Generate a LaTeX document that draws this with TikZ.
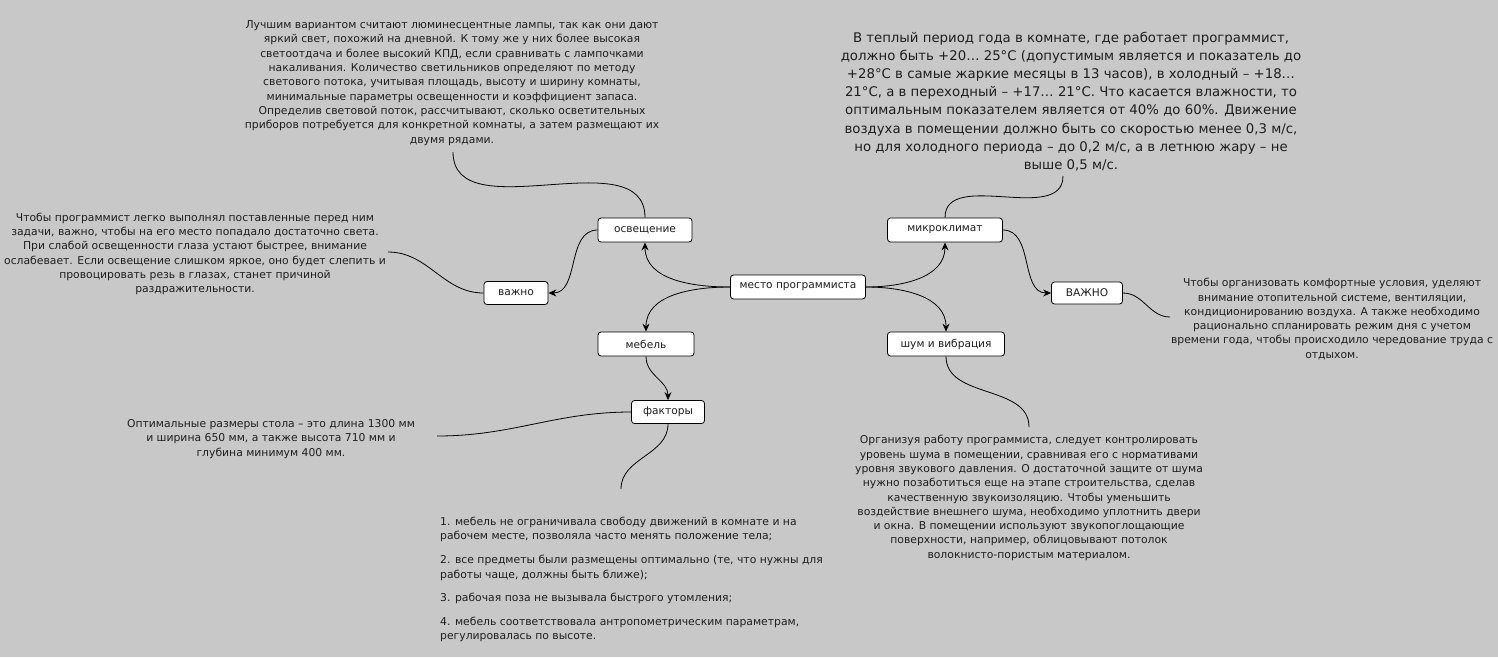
\documentclass[tikz,border=0pt]{standalone}
\usepackage{fontspec}
\setmainfont{DejaVu Sans}
\usetikzlibrary{arrows.meta,positioning}
\definecolor{bggray}{RGB}{200,200,200}
\definecolor{inkgray}{RGB}{30,30,30}

\tikzset{
	topic/.style={draw, fill=white, rounded corners=3pt, line width=0.8pt, inner sep=1pt,
		minimum height=24pt, text=inkgray, font=\fontsize{10.6}{12}\selectfont},
	note/.style={align=center, inner sep=0pt, text=inkgray, font=\fontsize{10.8}{14.3}\selectfont},
	link/.style={line width=0.8pt},
	arrowlink/.style={link, -{Stealth[length=8pt,width=7pt]}},
}

\begin{document}
\begin{tikzpicture}[x=1pt,y=1pt]
	% background
	\fill[bggray] (0,0) rectangle (1498,-657);
	\useasboundingbox (0,0) rectangle (1498,-657);
	
	% topics
	\node[topic, minimum width=135pt] (mesto) at (798,-287) {место программиста};
	\node[topic, minimum width=94pt] (light) at (645,-230) {освещение};
	\node[topic, minimum width=115pt] (climate) at (945,-230) {микроклимат};
	\node[topic, minimum width=64pt, minimum height=23pt] (important) at (516,-293) {важно};
	\node[topic, minimum width=71pt, minimum height=22pt] (important2) at (1087,-293) {ВАЖНО};
	\node[topic, minimum width=96pt] (furniture) at (646,-344) {мебель};
	\node[topic, minimum width=117pt] (noise) at (946,-344) {шум и вибрация};
	\node[topic, minimum width=73pt, minimum height=23pt] (factors) at (668,-412) {факторы};
	
	% notes
	\node[note] (txtlight) at (452,-83) {Лучшим вариантом считают люминесцентные лампы, так как они дают\\
		яркий свет, похожий на дневной. К тому же у них более высокая\\
		светоотдача и более высокий КПД, если сравнивать с лампочками\\
		накаливания. Количество светильников определяют по методу\\
		светового потока, учитывая площадь, высоту и ширину комнаты,\\
		минимальные параметры освещенности и коэффициент запаса.\\
		Определив световой поток, рассчитывают, сколько осветительных\\
		приборов потребуется для конкретной комнаты, а затем размещают их\\
		двумя рядами.};
	\node[note, font=\fontsize{13.3}{18.1}\selectfont] (txtclimate) at (1071,-101.5) {В теплый период года в комнате, где работает программист,\\
		должно быть +20… 25°C (допустимым является и показатель до\\
		+28°C в самые жаркие месяцы в 13 часов), в холодный – +18…\\
		21°C, а в переходный – +17… 21°C. Что касается влажности, то\\
		оптимальным показателем является от 40\% до 60\%. Движение\\
		воздуха в помещении должно быть со скоростью менее 0,3 м/с,\\
		но для холодного периода – до 0,2 м/с, а в летнюю жару – не\\
		выше 0,5 м/с.};
	\node[note] (txtleft) at (195,-254) {Чтобы программист легко выполнял поставленные перед ним\\
		задачи, важно, чтобы на его место попадало достаточно света.\\
		При слабой освещенности глаза устают быстрее, внимание\\
		ослабевает. Если освещение слишком яркое, оно будет слепить и\\
		провоцировать резь в глазах, станет причиной\\
		раздражительности.};
	\node[note] (txtright) at (1332,-319) {Чтобы организовать комфортные условия, уделяют\\
		внимание отопительной системе, вентиляции,\\
		кондиционированию воздуха. А также необходимо\\
		рационально спланировать режим дня с учетом\\
		времени года, чтобы происходило чередование труда с\\
		отдыхом.};
	\node[note] (txttable) at (271,-439) {Оптимальные размеры стола – это длина 1300 мм\\
		и ширина 650 мм, а также высота 710 мм и\\
		глубина минимум 400 мм.};
	\node[note] (txtnoise) at (1029,-498) {Организуя работу программиста, следует контролировать\\
		уровень шума в помещении, сравнивая его с нормативами\\
		уровня звукового давления. О достаточной защите от шума\\
		нужно позаботиться еще на этапе строительства, сделав\\
		качественную звукоизоляцию. Чтобы уменьшить\\
		воздействие внешнего шума, необходимо уплотнить двери\\
		и окна. В помещении используют звукопоглощающие\\
		поверхности, например, облицовывают потолок\\
		волокнисто-пористым материалом.};
	\node[note, align=left, anchor=north west] (txtlist) at (440,-517) {1. мебель не ограничивала свободу движений в комнате и на\\
		рабочем месте, позволяла часто менять положение тела;\\[9.5pt]
		2. все предметы были размещены оптимально (те, что нужны для\\
		работы чаще, должны быть ближе);\\[9.5pt]
		3. рабочая поза не вызывала быстрого утомления;\\[9.5pt]
		4. мебель соответствовала антропометрическим параметрам,\\
		регулировалась по высоте.};
	
	% free ends of the links
	\coordinate (lighttop) at (453,-152);
	\coordinate (climatetop) at (1063,-176);
	\coordinate (leftend) at (388,-252);
	\coordinate (rightend) at (1170,-317);
	\coordinate (tableend) at (437,-436);
	\coordinate (listtop) at (621,-489);
	\coordinate (noisetop) at (1029,-427);
	
	% links from the centre
	\draw[arrowlink] (mesto.west) to[out=180, in=-90] (light.south);
	\draw[arrowlink] (mesto.west) to[out=180, in=90] (furniture.north);
	\draw[arrowlink] (mesto.east) to[out=0, in=-90] (climate.south);
	\draw[arrowlink] (mesto.east) to[out=0, in=90] (noise.north);
	
	% second level
	\draw[arrowlink] (light.west) to[out=180, in=0] (important.east);
	\draw[arrowlink] (climate.east) to[out=0, in=180] (important2.west);
	\draw[arrowlink] (furniture.south) to[out=-90, in=90] (factors.north);
	
	% links to the notes
	\draw[link] (light.north) to[out=90, in=-90] (lighttop);
	\draw[link] (climate.north) to[out=90, in=-90] (climatetop);
	\draw[link] (important.west) to[out=180, in=0] (leftend);
	\draw[link] (important2.east) to[out=0, in=180] (rightend);
	\draw[link] (factors.west) to[out=180, in=0] (tableend);
	\draw[link] (factors.south) to[out=-90, in=90] (listtop);
	\draw[link] (noise.south) to[out=-90, in=90] (noisetop);
	
\end{tikzpicture}
\end{document}
